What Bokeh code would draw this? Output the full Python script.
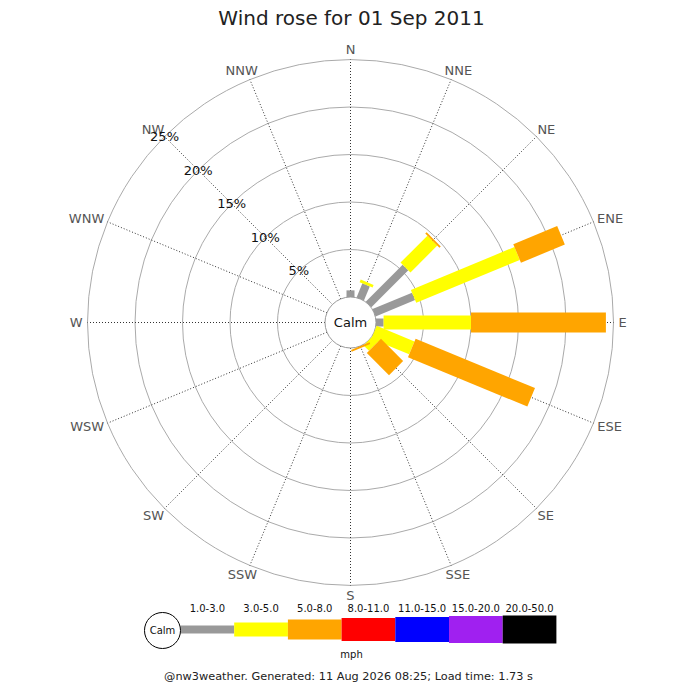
import math
from bokeh.plotting import figure
from bokeh.models import Range1d, ColumnDataSource
from bokeh.core.properties import value
from bokeh.embed import file_html
from bokeh.resources import INLINE

# ---------------- data ----------------
title_text = "Wind rose for 01 Sep 2011"
directions = ["N", "NNE", "NE", "ENE", "E", "ESE", "SE", "SSE",
              "S", "SSW", "SW", "WSW", "W", "WNW", "NW", "NNW"]
speed_bins = ["1.0-3.0", "3.0-5.0", "5.0-8.0", "8.0-11.0",
              "11.0-15.0", "15.0-20.0", "20.0-50.0"]
speed_colors = ["#999999", "#ffff00", "#ffa500", "#ff0000",
                "#0000ff", "#a020f0", "#000000"]
# percent of time per direction for each speed class (mph)
pct_1_3 = [0.7, 1.6, 5.5, 4.5, 0.8, 0.0, 0.0, 0.0, 0, 0, 0, 0, 0, 0, 0, 0]
pct_3_5 = [0.0, 0.3, 4.0, 11.8, 9.2, 4.3, 0.8, 0.0, 0, 0, 0, 0, 0, 0, 0, 0]
pct_5_8 = [0.0, 0.0, 0.2, 5.0, 14.2, 13.6, 3.3, 0.2, 0, 0, 0, 0, 0, 0, 0, 0]
pct_8_11 = [0] * 16
pct_11_15 = [0] * 16
pct_15_20 = [0] * 16
pct_20_50 = [0] * 16
ring_pcts = [5, 10, 15, 20, 25]
ring_labels = ["5%", "10%", "15%", "20%", "25%"]
unit_label = "mph"
calm_label = "Calm"
footer_text = "@nw3weather. Generated: 11 Aug 2026 08:25; Load time: 1.73 s"

series = [pct_1_3, pct_3_5, pct_5_8, pct_8_11, pct_11_15, pct_15_20, pct_20_50]

# ---------------- layout ----------------
W = H = 684
PX = 9.5              # pixels per percent
CALM = 25.5 / PX      # calm circle radius (data units)
CX, CY = 350, 322     # centre of rose in pixels
bar_px = [8, 14, 20, 23, 25, 27, 28]
FONT = value("DejaVu Sans")


def dx(px):
    return (px - CX) / PX


def dy(py):
    return (CY - py) / PX


p = figure(width=W, height=H,
           x_range=Range1d(dx(0), dx(W)), y_range=Range1d(dy(H), dy(0)),
           output_backend="svg", toolbar_location=None,
           x_axis_type=None, y_axis_type=None, min_border=0)
p.grid.visible = False
p.outline_line_color = None
p.background_fill_color = "white"
p.border_fill_color = "white"

R_OUT = CALM + ring_pcts[-1]

# rings
p.circle(x=[0] * len(ring_pcts), y=[0] * len(ring_pcts),
         radius=[CALM + r for r in ring_pcts],
         fill_color=None, line_color="#aaaaaa", line_width=1)

# radial lines
angs = [i * 2 * math.pi / len(directions) for i in range(len(directions))]
p.segment(x0=[CALM * math.sin(a) for a in angs], y0=[CALM * math.cos(a) for a in angs],
          x1=[R_OUT * math.sin(a) for a in angs], y1=[R_OUT * math.cos(a) for a in angs],
          line_color="#333333", line_width=1, line_dash="1 2")

# calm circle
p.circle(x=[0], y=[0], radius=[CALM], fill_color="white",
         line_color="#999999", line_width=1)

# bars
bx, by, bw, bh, ba, bc = [], [], [], [], [], []
for i, a in enumerate(angs):
    start = CALM
    for k, s in enumerate(series):
        v = s[i]
        if v <= 0:
            continue
        mid = start + v / 2
        bx.append(mid * math.sin(a))
        by.append(mid * math.cos(a))
        bw.append(v)
        bh.append(bar_px[k] / PX)
        ba.append(math.pi / 2 - a)
        bc.append(speed_colors[k])
        start += v
p.rect(x="x", y="y", width="w", height="h", angle="a", fill_color="c",
       line_color=None,
       source=ColumnDataSource(dict(x=bx, y=by, w=bw, h=bh, a=ba, c=bc)))

# compass labels
cw = {"N": 0.748, "E": 0.632, "S": 0.635, "W": 0.989}
lx, ly = [], []
R0 = 268
for d, a in zip(directions, angs):
    w = sum(cw[ch] for ch in d) * 13
    px = CX + R0 * math.sin(a) + math.sin(a) * w / 2
    py = CY - R0 * math.cos(a) - math.cos(a) * 5
    lx.append(dx(px))
    ly.append(dy(py))
p.text(x=lx, y=ly, text=directions, text_font=FONT, text_font_size="13px",
       text_color="#555555", text_align="center", text_baseline="middle")

# ring labels along NW
nw = angs[directions.index("NW")]
p.text(x=[(CALM + r) * math.sin(nw) for r in ring_pcts],
       y=[(CALM + r) * math.cos(nw) for r in ring_pcts],
       text=ring_labels, text_font=FONT, text_font_size="13px",
       text_color="#111111", text_align="center", text_baseline="middle")

# centre calm text
p.text(x=[0], y=[0], text=[calm_label], text_font=FONT, text_font_size="13px",
       text_color="#111111", text_align="center", text_baseline="middle")

# title
p.text(x=[dx(351)], y=[dy(17)], text=[title_text], text_font=FONT,
       text_font_size="20px", text_color="#222222",
       text_align="center", text_baseline="middle")

# legend
LX0, LW, LY = 180, 53.7, 629
lcx = [dx(LX0 + LW * (k + 0.5)) for k in range(len(speed_bins))]
p.rect(x=lcx, y=[dy(LY)] * len(speed_bins), width=[LW / PX] * len(speed_bins),
       height=[h / PX for h in bar_px], fill_color=speed_colors, line_color=None)
p.text(x=lcx, y=[dy(607)] * len(speed_bins), text=speed_bins, text_font=FONT,
       text_font_size="10px", text_color="#111111",
       text_align="center", text_baseline="middle")
p.circle(x=[dx(162)], y=[dy(630)], radius=[18 / PX], fill_color="white",
         line_color="#000000", line_width=1)
p.text(x=[dx(162)], y=[dy(630)], text=[calm_label], text_font=FONT,
       text_font_size="10px", text_color="#111111",
       text_align="center", text_baseline="middle")
p.text(x=[dx(351)], y=[dy(654)], text=[unit_label], text_font=FONT,
       text_font_size="10px", text_color="#111111",
       text_align="center", text_baseline="middle")

# footer
p.text(x=[dx(348)], y=[dy(676)], text=[footer_text], text_font=FONT,
       text_font_size="11.3px", text_color="#222222",
       text_align="center", text_baseline="middle")

open("out.html", "w").write(file_html(p, INLINE))
